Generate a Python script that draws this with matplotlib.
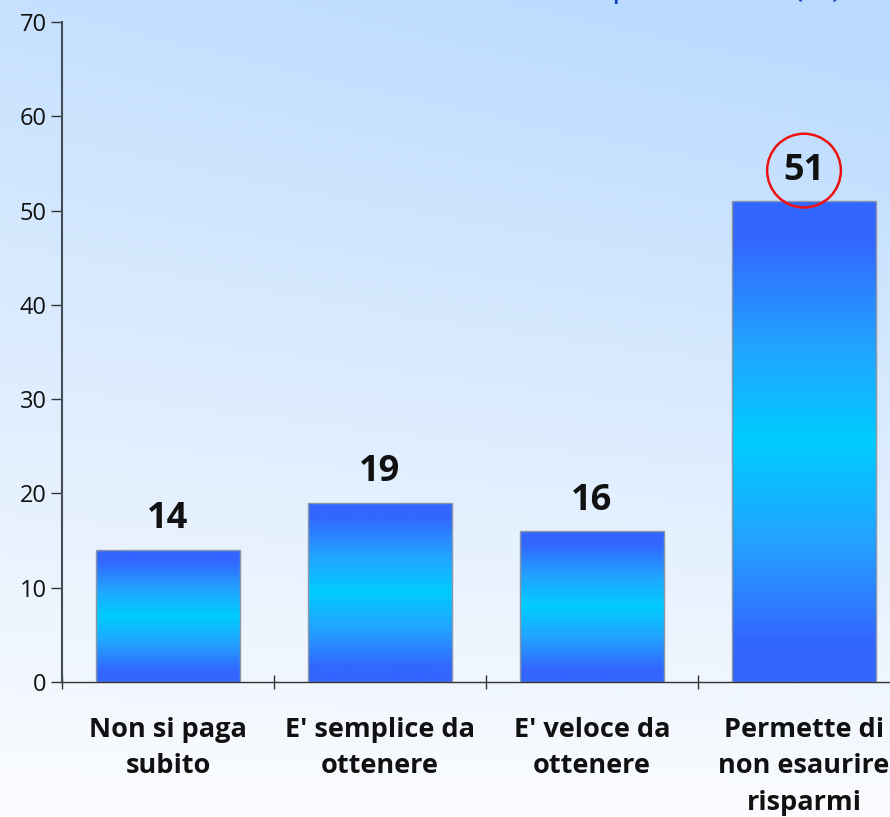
import numpy as np
import matplotlib
matplotlib.use("Agg")
import matplotlib.pyplot as plt
from matplotlib.colors import LinearSegmentedColormap

categories = ["Non si paga\nsubito", "E' semplice da\nottenere", "E' veloce da\nottenere", "Permette di\nnon esaurire\nrisparmi"]
values = [14, 19, 16, 51]
highlight = [False, False, False, True]
yticks = [0, 10, 20, 30, 40, 50, 60, 70]
title = "Motivi della preferenza (%)"

plt.rcParams['font.family'] = ['Open Sans', 'DejaVu Sans']

W, H = 890, 817
fig = plt.figure(figsize=(W/100, H/100), dpi=100)

# background gradient
bg = fig.add_axes([0, 0, 1, 1], zorder=-10)
bg.set_axis_off()
yy, xx = np.mgrid[0:1:200j, 0:1:200j]
t = np.clip(0.8*yy + 0.25*xx*yy, 0, 1)  # yy=1 at top (origin lower)
c_low = np.array([0xfb, 0xfc, 0xff]) / 255
c_high = np.array([0xb9, 0xda, 0xfe]) / 255
img = c_low[None, None, :]*(1-t[..., None]) + c_high[None, None, :]*t[..., None]
bg.imshow(img, origin='lower', extent=[0, 1, 0, 1], aspect='auto')
bg.set_xlim(0, 1); bg.set_ylim(0, 1)

left = 62/W
bottom = (H-682)/H
width = 848/W
height = 660/H
ax = fig.add_axes([left, bottom, width, height])
ax.patch.set_alpha(0)

x = np.arange(len(values))
bw = 0.675
bars = ax.bar(x, values, width=bw, color='none', edgecolor='#8a96a6', linewidth=1.0, zorder=3)

cmap = LinearSegmentedColormap.from_list('g', [(0, '#3366ff'), (0.08, '#3366ff'), (0.3, '#22a4ff'),
                                               (0.5, '#00ccff'), (0.7, '#22a4ff'), (0.92, '#3366ff'), (1, '#3366ff')])
grad = np.linspace(0, 1, 256).reshape(-1, 1)
for b in bars:
    x0, y0 = b.get_x(), b.get_y()
    im = ax.imshow(grad, cmap=cmap, origin='lower', aspect='auto',
                   extent=[x0, x0 + b.get_width(), y0, y0 + b.get_height()], zorder=2)
    im.set_clip_path(b)

ax.set_xlim(-0.5, len(values) - 0.5)
ax.set_ylim(0, 70)
ax.set_yticks(yticks)
ax.set_yticklabels([str(v) for v in yticks], fontsize=17, color='#111111')
ax.set_xticks(np.arange(len(values) + 1) - 0.5, minor=False)
ax.set_xticklabels([])
ax.set_xticks(x, minor=True)
ax.set_xticklabels(categories, minor=True, fontsize=19.5, fontweight='bold', color='#111111', linespacing=1.52)
ax.tick_params(axis='x', which='minor', length=0, pad=25)
ax.tick_params(axis='x', which='major', length=10, direction='inout', color='#333333', width=1.0)
ax.tick_params(axis='y', length=8, direction='out', color='#333333', width=1.0, pad=3)
for s in ['top', 'right']:
    ax.spines[s].set_visible(False)
ax.spines['left'].set_color('#444c55')
ax.spines['left'].set_linewidth(1.5)
ax.spines['bottom'].set_color('#333333')
ax.spines['bottom'].set_linewidth(1.0)
ax.set_xlim(-0.5, len(values) - 0.5)

for xi, v, h in zip(x, values, highlight):
    kw = {}
    if h:
        kw['bbox'] = dict(boxstyle='circle,pad=0.45', fc='none', ec='#ee1111', lw=1.8)
    ax.annotate(str(v), (xi, v), xytext=(0, 22), textcoords='offset points',
                ha='center', va='center', fontsize=26, fontweight='bold', color='#111111', zorder=5, **kw)

fig.text(842/W, 1 + 4/H, title, ha='right', va='baseline', fontsize=24.5, color='#1040c0')

fig.savefig('out.png', dpi=100)
